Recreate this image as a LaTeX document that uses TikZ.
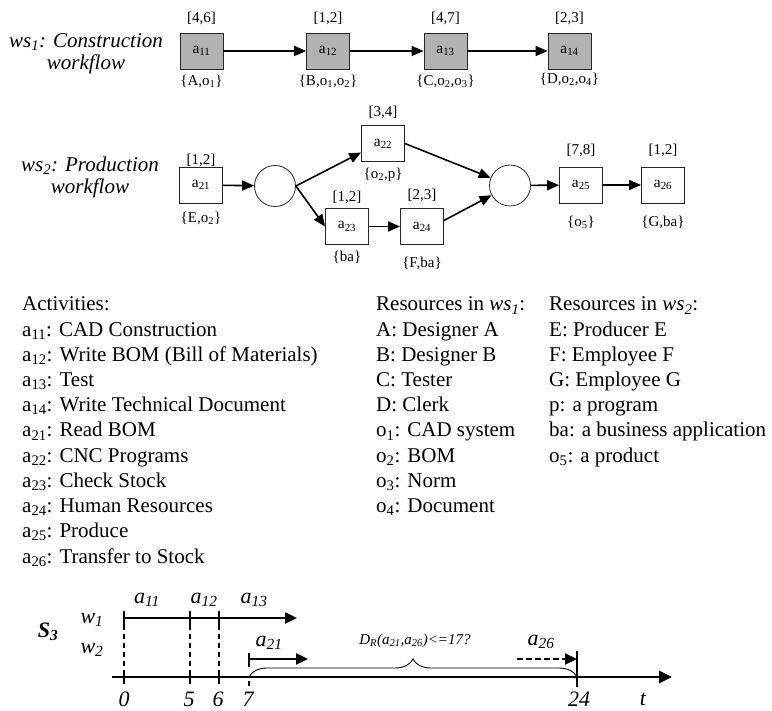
\documentclass[tikz,border=0pt]{standalone}
\usepackage{fontspec}
\setmainfont{Liberation Serif}
\usetikzlibrary{arrows.meta,decorations.pathreplacing}
\newcommand\sbs[1]{\textsubscript{#1}}
\definecolor{boxgray}{RGB}{178,178,178}
\begin{document}
\begin{tikzpicture}[x=1pt,y=-1pt,
  act/.style={draw=black!85, line width=0.8pt, minimum width=43pt, minimum height=36pt, inner sep=0pt, font=\fontsize{15.5}{17}\selectfont},
  gact/.style={act, fill=boxgray},
  gate/.style={draw=black!85, line width=0.8pt, circle, minimum size=41pt, inner sep=0pt},
  lab/.style={font=\fontsize{15}{17}\selectfont, inner sep=0pt},
  flow/.style={line width=1.6pt, -{Triangle[length=12pt,width=10pt]}},
  wf/.style={font=\fontsize{21}{22}\selectfont\itshape, align=center, inner sep=0pt},
  lst/.style={font=\fontsize{21}{25}\selectfont, anchor=base west, inner sep=0pt},
  tl/.style={font=\fontsize{22}{24}\selectfont\itshape, inner sep=0pt},
  tk/.style={line width=1.8pt},
  dline/.style={line width=1.8pt, dash pattern=on 5pt off 4pt},
  tarrow/.style={line width=2.4pt, -{Triangle[length=12pt,width=11pt]}}
]
\useasboundingbox (0,0) rectangle (772,711);

% ---------- ws1 ----------
\node[wf] (ws1) at (86,54) {ws\sbs{1}: Construction\\workflow};
\node[gact] (a11) at (201.5,51) {a\sbs{11}};
\node[gact] (a12) at (328,51) {a\sbs{12}};
\node[gact] (a13) at (445.5,51) {a\sbs{13}};
\node[gact] (a14) at (569.5,51) {a\sbs{14}};
\node[lab] (t11) at (201.5,18) {[4,6]};
\node[lab] (t12) at (328,18) {[1,2]};
\node[lab] (t13) at (445.5,18) {[4,7]};
\node[lab] (t14) at (569.5,18) {[2,3]};
\node[lab] (r11) at (201.5,81) {\{A,o\sbs{1}\}};
\node[lab] (r12) at (328,81) {\{B,o\sbs{1},o\sbs{2}\}};
\node[lab] (r13) at (445.5,81) {\{C,o\sbs{2},o\sbs{3}\}};
\node[lab] (r14) at (569.5,79) {\{D,o\sbs{2},o\sbs{4}\}};
\draw[flow] (a11) -- (a12);
\draw[flow] (a12) -- (a13);
\draw[flow] (a13) -- (a14);

% ---------- ws2 ----------
\node[wf] (ws2) at (90,177.5) {ws\sbs{2}: Production\\workflow};
\node[act] (a21) at (201,185) {a\sbs{21}};
\node[gate] (c1) at (275,186) {};
\node[act] (a22) at (383,143.5) {a\sbs{22}};
\node[act] (a23) at (347,226.5) {a\sbs{23}};
\node[act] (a24) at (422,226.5) {a\sbs{24}};
\node[gate] (c2) at (510,185.5) {};
\node[act] (a25) at (581,185) {a\sbs{25}};
\node[act] (a26) at (663,185) {a\sbs{26}};
\node[lab] (t21) at (201,160) {[1,2]};
\node[lab] (r21) at (201,218) {\{E,o\sbs{2}\}};
\node[lab] (t22) at (383,112) {[3,4]};
\node[lab] (r22) at (383,175) {\{o\sbs{2},p\}};
\node[lab] (t23) at (347,197) {[1,2]};
\node[lab] (r23) at (347,257) {\{ba\}};
\node[lab] (t24) at (422,195) {[2,3]};
\node[lab] (r24) at (422,263) {\{F,ba\}};
\node[lab] (t25) at (581,150) {[7,8]};
\node[lab] (r25) at (581,222) {\{o\sbs{5}\}};
\node[lab] (t26) at (663,150) {[1,2]};
\node[lab] (r26) at (663,222) {\{G,ba\}};
\draw[flow] (a21) -- (c1);
\draw[flow] (c1.east) -- ([yshift=-9pt]a22.west);
\draw[flow] (c1.east) -- (a23.west);
\draw[flow] (a23) -- (a24);
\draw[flow] (a22.east) -- (c2);
\draw[flow] ([yshift=6pt]a24.east) -- (c2);
\draw[flow] (c2) -- (a25);
\draw[flow] (a25) -- (a26);

% ---------- lists ----------
\foreach \i/\t in {0/Activities:, 1/a\sbs{11}: CAD Construction, 2/a\sbs{12}: Write BOM (Bill of Materials), 3/a\sbs{13}: Test, 4/a\sbs{14}: Write Technical Document, 5/a\sbs{21}: Read BOM, 6/a\sbs{22}: CNC Programs, 7/a\sbs{23}: Check Stock, 8/a\sbs{24}: Human Resources, 9/a\sbs{25}: Produce, 10/a\sbs{26}: Transfer to Stock}
  \node[lst] (act\i) at (22,311+25.2*\i) {\t};
\foreach \i/\t in {0/Resources in \textit{ws\sbs{1}}:, 1/A: Designer A, 2/B: Designer B, 3/C: Tester, 4/D: Clerk, 5/o\sbs{1}: CAD system, 6/o\sbs{2}: BOM, 7/o\sbs{3}: Norm, 8/o\sbs{4}: Document}
  \node[lst] (ra\i) at (376,311+25.2*\i) {\t};
\foreach \i/\t in {0/Resources in \textit{ws\sbs{2}}:, 1/E: Producer E, 2/F: Employee F, 3/G: Employee G, 4/p: a program, 5/ba: a business application, 6/o\sbs{5}: a product}
  \node[lst] (rb\i) at (549,311+25.2*\i) {\t};

% ---------- timeline ----------
\node[tl, font=\fontsize{22}{24}\selectfont\bfseries\itshape] (s3) at (48,632) {S\sbs{3}};
\node[tl] (lw1) at (92,620) {w\sbs{1}};
\node[tl] (lw2) at (92,650) {w\sbs{2}};
\coordinate (axs) at (112,677);
\coordinate (axe) at (672,677);
\draw[line width=2.6pt, -{Triangle[length=13pt,width=12pt]}] (axs) -- (axe);

\foreach \n/\x in {0/124,5/190,6/219}{
  \coordinate (up\n) at (\x,611);
  \coordinate (wa\n) at (\x,625);
  \coordinate (ax\n) at (\x,670);
  \coordinate (lo\n) at (\x,684);
  \draw[tk] (up\n) -- (wa\n);
  \draw[dline] (wa\n) -- (ax\n);
  \draw[tk] (ax\n) -- (lo\n);
}
\coordinate (w1s) at (124,618);
\coordinate (w1e) at (297,618);
\draw[tarrow] (w1s) -- (w1e);

\coordinate (s7t) at (249,653);
\coordinate (s7b) at (249,667);
\coordinate (s7a) at (249,677);
\coordinate (s7l) at (249,681);
\coordinate (s7m) at (249,686);
\draw[tk] (s7t) -- (s7b);
\draw[line width=1.5pt] (s7l) -- (s7m);
\coordinate (a21s) at (249,659);
\coordinate (a21e) at (308,659);
\draw[tarrow] (a21s) -- (a21e);

\coordinate (s24t) at (577,651);
\coordinate (s24b) at (577,687);
\coordinate (s24a) at (577,677);
\draw[tk] (s24t) -- (s24b);
\coordinate (a26s) at (517,659);
\coordinate (a26e) at (577,659);
\draw[line width=2.2pt, dash pattern=on 6pt off 3pt, -{Triangle[length=12pt,width=11pt]}] (a26s) -- (a26e);

\draw[line width=0.9pt, decorate, decoration={brace, amplitude=18pt}] (s7a) -- (s24a);

\node[tl] (la11) at (147,600) {a\sbs{11}};
\node[tl] (la12) at (204,600) {a\sbs{12}};
\node[tl] (la13) at (254,600) {a\sbs{13}};
\node[tl] (la21) at (269,643) {a\sbs{21}};
\node[tl] (la26) at (541,642) {a\sbs{26}};
\node[tl, font=\fontsize{15}{17}\selectfont\itshape] (dr) at (415,641) {D\sbs{R}(a\sbs{21},a\sbs{26})<=17?};

\node[tl] (n0) at (124,699) {0};
\node[tl] (n5) at (189,699) {5};
\node[tl] (n6) at (218,699) {6};
\node[tl] (n7) at (248,699) {7};
\node[tl] (n24) at (579,699) {24};
\node[tl] (nt) at (643,699) {t};
\end{tikzpicture}
\end{document}
